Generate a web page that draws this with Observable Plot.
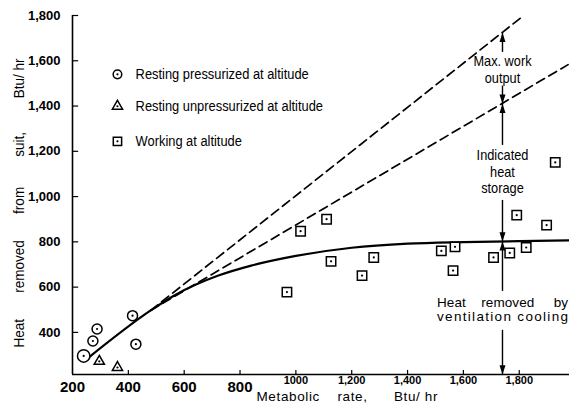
<!DOCTYPE html>
<html><head><meta charset="utf-8">
<script src="https://cdn.jsdelivr.net/npm/d3@7"></script>
<script src="https://cdn.jsdelivr.net/npm/@observablehq/plot@0.6"></script>
<style>body{margin:0;background:#fff}</style>
</head><body><div id="chart"></div>
<script>
// ---- data ----
const restPressX = [240, 273, 288, 415, 427];
const restPressY = [296, 362, 415, 474, 348];
const restUnpressX = [296, 361];
const restUnpressY = [272, 245];
const workX = [968, 1017, 1110, 1126, 1237, 1279, 1521, 1570, 1563, 1708, 1766, 1825, 1791, 1898, 1929];
const workY = [578, 847, 900, 714, 651, 731, 760, 778, 673, 731, 751, 775, 918, 874, 1151];
const curveX = [253, 480, 560, 640, 720, 840, 1000, 1200, 1400, 1600, 1800, 1980];
const curveY = [284, 497, 560, 610, 650, 695, 738, 774, 792, 799, 803, 807];
const upperX = [480, 1816];
const upperY = [497, 1800];
const lowerX = [480, 1975];
const lowerY = [497, 1583];
const xTicks = [200, 400, 600, 800, 1000, 1200, 1400, 1600, 1800];
const xTickLabels = ["200", "400", "600", "800", "1000", "1,200", "1,400", "1,600", "1,800"];
const yTicks = [400, 600, 800, 1000, 1200, 1400, 1600, 1800];
const yTickLabels = ["400", "600", "800", "1,000", "1,200", "1,400", "1,600", "1,800"];
const legendLabels = ["Resting pressurized at altitude", "Resting unpressurized at altitude", "Working at altitude"];
const legendSymbols = ["circle", "triangle", "square"];
const legendY = [1540, 1399, 1244];
const arrowX = 1740;
const segLow = [1410, 1637, 1226, 802, 581, 214];
const segHigh = [1488, 1724, 1410, 983, 802, 409];
const tipsUp = [1724, 1410, 802];
const tipsDown = [1410, 802, 214];
const annotLines = ["Max. work", "output", "Indicated", "heat", "storage",
  "Heat\u00a0\u00a0\u00a0\u00a0removed\u00a0\u00a0\u00a0\u00a0\u00a0by", "ventilation cooling"];
const annotY = [1597, 1523, 1181, 1109, 1037, 532, 470];
const xTitle = "Metabolic\u00a0\u00a0\u00a0\u00a0rate,\u00a0\u00a0\u00a0\u00a0\u00a0\u00a0Btu/\u00a0hr";
const yTitle = "Heat\u00a0\u00a0\u00a0\u00a0\u00a0\u00a0\u00a0removed\u00a0\u00a0\u00a0\u00a0\u00a0\u00a0\u00a0from\u00a0\u00a0\u00a0\u00a0\u00a0\u00a0\u00a0\u00a0suit,\u00a0\u00a0\u00a0\u00a0\u00a0\u00a0\u00a0\u00a0\u00a0Btu/\u00a0hr";

// ---- layout ----
const SANS = "'Liberation Sans', Arial, sans-serif";
const X0 = 200, X1 = 1980, Y0 = 214, Y1 = 1800;
const pts = (xs, ys) => xs.map((x, i) => ({x, y: ys[i]}));
const press = pts(restPressX, restPressY);
const unpress = pts(restUnpressX, restUnpressY);
const work = pts(workX, workY);
const legend = legendLabels.map((t, i) => ({t, s: legendSymbols[i], y: legendY[i]}));
const arrowHead = {draw(ctx, size) {
  const r = Math.sqrt(size / Math.PI);
  ctx.moveTo(0, 0); ctx.lineTo(-0.75 * r, 2.3 * r); ctx.lineTo(0.75 * r, 2.3 * r); ctx.closePath();
}};
const legX = 361, legTextX = 426;
const markerStroke = 1.5;

const chart = Plot.plot({
  width: 569, height: 411,
  marginLeft: 72, marginRight: 0, marginTop: 15, marginBottom: 37,
  x: {domain: [X0, X1]},
  y: {domain: [Y0, Y1]},
  r: {type: "identity"},
  style: {fontFamily: SANS, fontSize: "14px", color: "black", background: "white", overflow: "visible"},
  marks: [
    Plot.ruleX([X0], {y1: Y0, y2: Y1, strokeWidth: 1.6}),
    Plot.ruleY([Y0], {x1: X0, x2: X1, strokeWidth: 1.6}),
    Plot.ruleY(yTicks, {y: d => d, x1: X0, x2: X0 + 22, strokeWidth: 1.2}),
    Plot.ruleX(xTicks.slice(1), {x: d => d, y1: Y0, y2: Y0 + 18, strokeWidth: 1.2}),
    Plot.axisY({ticks: yTicks, tickSize: 0, tickPadding: 12, tickFormat: d => yTickLabels[yTicks.indexOf(d)],
      fontSize: 13, fontWeight: "bold", label: null}),
    Plot.axisX({ticks: xTicks.slice(0, 4), tickSize: 0, tickPadding: 7, tickFormat: d => xTickLabels[xTicks.indexOf(d)],
      fontSize: 15, fontWeight: "bold", label: null}),
    Plot.axisX({ticks: xTicks.slice(4), tickSize: 0, tickPadding: 2, tickFormat: d => xTickLabels[xTicks.indexOf(d)],
      fontSize: 11, fontWeight: "bold", label: null}),
    Plot.text([xTitle], {frameAnchor: "bottom-left", dx: 184, dy: 22, textAnchor: "start", lineAnchor: "middle", fontSize: 13.5}),
    Plot.text([yTitle], {frameAnchor: "left", dx: -53, dy: 8, rotate: -90, textAnchor: "middle", lineAnchor: "middle", fontSize: 15.5}),
    Plot.line(pts(upperX, upperY), {x: "x", y: "y", strokeWidth: 1.7, strokeDasharray: "9,5"}),
    Plot.line(pts(lowerX, lowerY), {x: "x", y: "y", strokeWidth: 1.7, strokeDasharray: "9,5"}),
    Plot.line(pts(curveX, curveY), {x: "x", y: "y", strokeWidth: 2.2, curve: "monotone-x"}),
    Plot.dot(press, {x: "x", y: "y", r: (d, i) => i === 0 ? 6.2 : 5, symbol: "circle", stroke: "black", strokeWidth: markerStroke, fill: "white"}),
    Plot.dot(unpress, {x: "x", y: "y", r: 3.8, symbol: "triangle", stroke: "black", strokeWidth: markerStroke, fill: "white"}),
    Plot.dot(work, {x: "x", y: "y", r: 5.3, symbol: "square", stroke: "black", strokeWidth: markerStroke, fill: "white"}),
    Plot.dot([...press, ...unpress, ...work], {x: "x", y: "y", r: 1.1, fill: "black"}),
    Plot.dot(legend, {x: () => legX, y: "y", symbol: "s", r: d => d.s === "square" ? 4.7 : d.s === "triangle" ? 3.8 : 4.3, stroke: "black", strokeWidth: markerStroke, fill: "white"}),
    Plot.dot(legend, {x: () => legX, y: "y", r: 1.1, fill: "black"}),
    Plot.text(legend, {x: () => legTextX, y: "y", text: "t", textAnchor: "start", lineAnchor: "middle", fontSize: 15.5}),
    Plot.ruleX(segLow.map((lo, i) => ({lo, hi: segHigh[i]})), {x: () => arrowX, y1: "lo", y2: "hi", strokeWidth: 1.4}),
    Plot.dot(tipsUp, {x: () => arrowX, y: d => d, symbol: arrowHead, r: 4, fill: "black"}),
    Plot.dot(tipsDown, {x: () => arrowX, y: d => d, symbol: arrowHead, r: 4, fill: "black", rotate: 180}),
    Plot.text(annotLines.map((t, i) => ({t, y: annotY[i]})), {x: () => arrowX, y: "y", text: "t", textAnchor: "middle", lineAnchor: "middle",
      fontSize: (d, i) => i >= 5 ? 13.5 : 14.5})
  ]
});
document.getElementById("chart").appendChild(chart);
// condensed look of the scanned typeface
const condensed = new Set([...legendLabels, ...annotLines.slice(0, 5)]);
d3.select(chart).selectAll("text").each(function() {
  const s = this.textContent;
  if (condensed.has(s)) {
    const w = this.getComputedTextLength();
    const f = legendLabels.includes(s) ? 0.83 : 0.88;
    this.setAttribute("textLength", (w * f).toFixed(1));
    this.setAttribute("lengthAdjust", "spacingAndGlyphs");
  } else if (s === annotLines[5] || s === annotLines[6]) {
    this.setAttribute("textLength", "131");
    this.setAttribute("lengthAdjust", "spacing");
  } else if (s === xTitle) {
    this.setAttribute("textLength", "181");
    this.setAttribute("lengthAdjust", "spacing");
  } else if (s === yTitle) {
    this.setAttribute("textLength", "289");
    this.setAttribute("lengthAdjust", "spacingAndGlyphs");
  }
});
</script>
</body></html>
